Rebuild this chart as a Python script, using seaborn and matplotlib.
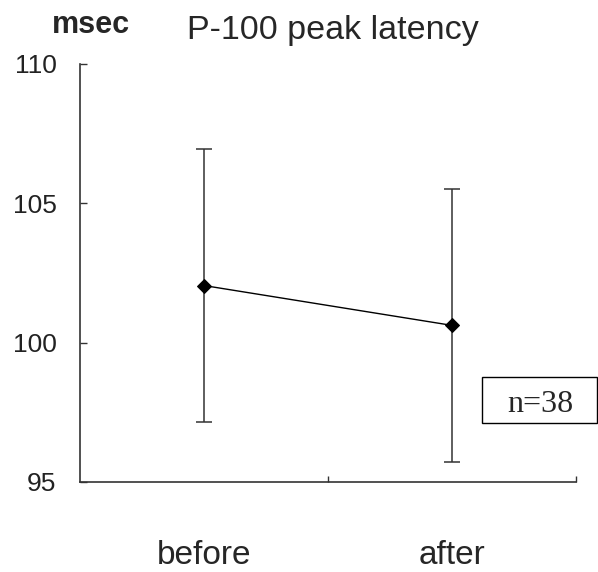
import matplotlib
matplotlib.use("Agg")
import matplotlib.pyplot as plt
import seaborn as sns
import pandas as pd
from matplotlib.patches import Rectangle

# values
phase = ["before", "after"]
mean_ms = [102.05, 100.62]
sd_ms = [4.9, 4.9]
n_subjects = 38

df = pd.DataFrame({"phase": phase, "x": [0, 1], "latency": mean_ms, "sd": sd_ms})

sns.set_style("white")
plt.rcParams["font.family"] = ["Liberation Sans", "DejaVu Sans"]

fig = plt.figure(figsize=(5.98, 5.72), dpi=100)
ax = fig.add_axes([80 / 598, 1 - 482 / 572, 496 / 598, (482 - 64) / 572])

ax.errorbar(df["x"], df["latency"], yerr=df["sd"], fmt="none",
            ecolor="#333333", elinewidth=1.1, capsize=6, capthick=1.1, zorder=2)
sns.lineplot(data=df, x="x", y="latency", ax=ax, color="black", linewidth=1,
             marker="D", markersize=7, markeredgecolor="black", zorder=3)

ax.set_xlim(-0.5, 1.5)
ax.set_ylim(95, 110)
ax.set_yticks([95, 100, 105, 110])
ax.set_yticklabels(["95", "100", "105", "110"])
ax.tick_params(axis="y", direction="in", length=5, width=1, color="#333333",
               labelsize=19, labelcolor="#222222", pad=17, left=True)

ax.set_xticks([0, 1])
ax.set_xticklabels(phase)
ax.tick_params(axis="x", which="major", length=0, labelsize=24, pad=42)
ax.set_xticks([0.5, 1.5], minor=True)
ax.tick_params(axis="x", which="minor", direction="in", length=4, width=1,
               color="#333333", bottom=True)

for s in ["top", "right"]:
    ax.spines[s].set_visible(False)
for s in ["left", "bottom"]:
    ax.spines[s].set_color("#333333")
    ax.spines[s].set_linewidth(1.2)
ax.set_xlabel(None)
ax.set_ylabel(None)

fig.text(91 / 598, 1 - 25 / 572, "msec", fontsize=22, fontweight="bold",
         ha="center", va="center")
fig.text(333 / 598, 1 - 31 / 572, "P-100 peak latency", fontsize=24.5,
         ha="center", va="center")

# n box
fig.patches.append(Rectangle((482 / 598, 1 - 423 / 572), 115 / 598, 46 / 572,
                             transform=fig.transFigure, fill=False,
                             edgecolor="black", linewidth=1))
fig.text(540 / 598, 1 - 404 / 572, "n=%d" % n_subjects, fontsize=23,
         family="Liberation Serif", ha="center", va="center")

fig.savefig("out.png", dpi=100)
